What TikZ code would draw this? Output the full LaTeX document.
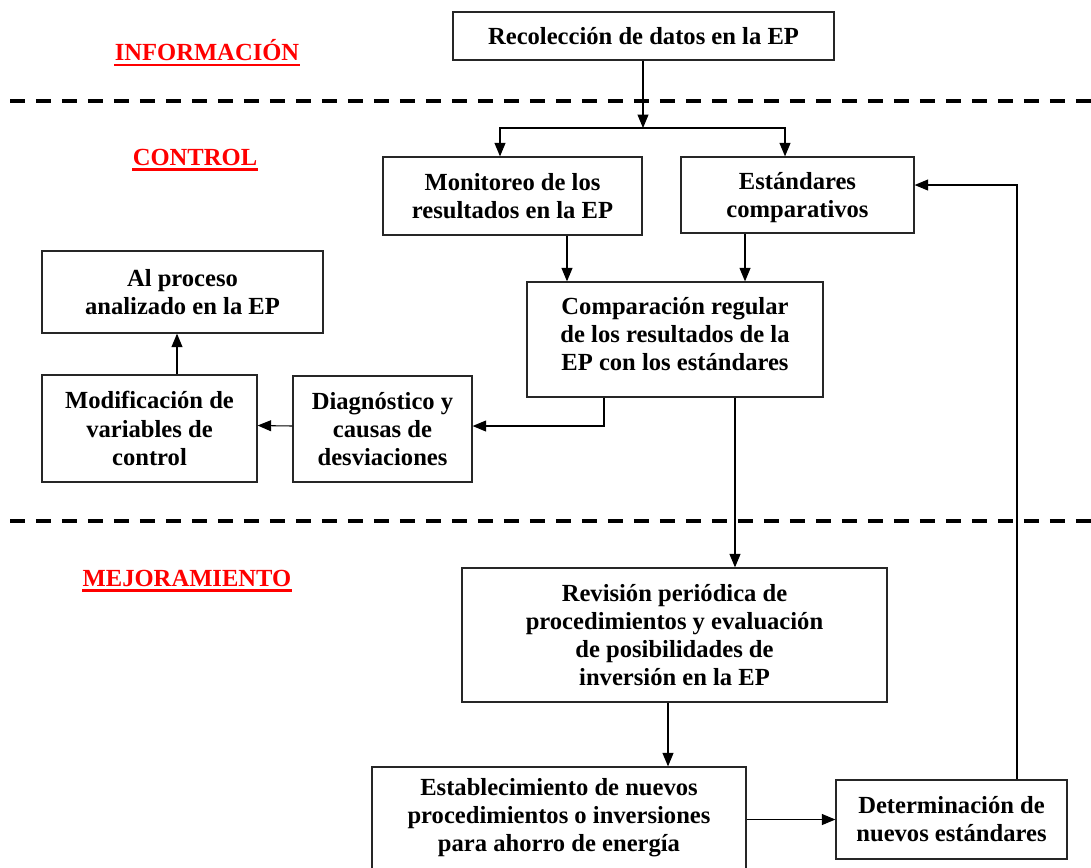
\documentclass[tikz,border=0pt]{standalone}
\usepackage{fontspec}
\setmainfont{Liberation Serif}
\usetikzlibrary{arrows.meta,calc}
\begin{document}
\begin{tikzpicture}[x=0.02cm,y=-0.02cm,
  box/.style={draw=black!85,line width=0.75pt,inner sep=0pt,font=\fontsize{14}{16}\selectfont\bfseries,align=center},
  txt/.style={inner sep=0pt,font=\fontsize{14}{16}\selectfont\bfseries,align=center},
  arr/.style={line width=0.6pt,-{Triangle[length=0.27cm,width=0.22cm]}},
  sep/.style={line width=2.3pt,dash pattern=on 0.3cm off 0.22cm},
  lab/.style={inner sep=0pt,text=red,font=\fontsize{14}{16}\selectfont\bfseries},
  uline/.style={red,line width=1.3pt}]
\useasboundingbox (0,0) rectangle (1091,867);
\clip (0,0) rectangle (1091,867);

% section separators
\draw[sep] (10,101) -- (1091,101);
\draw[sep] (10,521) -- (1091,521);

% section titles
\node[lab] (tinf) at (207,50) {INFORMACIÓN};
\node[lab] (tctl) at (195,157) {CONTROL};
\node[lab] (tmej) at (187,578) {MEJORAMIENTO};
\foreach \t in {tinf,tctl,tmej}
  \draw[uline] ([yshift=-2.6pt]\t.base west) -- ([yshift=-2.6pt]\t.base east);

% boxes
\node[box,minimum width=7.62cm,minimum height=0.96cm] (rec) at (643.5,36) {Recolección de datos en la EP};
\node[box,minimum width=5.18cm,minimum height=1.56cm] (mon) at (512.5,196) {Monitoreo de los\\resultados en la EP};
\node[box,minimum width=4.66cm,minimum height=1.52cm] (est) at (797.5,195) {};
\node[txt] at (797.5,198) {Estándares\\comparativos};
\node[box,minimum width=5.62cm,minimum height=1.64cm] (alp) at (182.5,292) {Al proceso\\analizado en la EP};
\node[box,minimum width=5.92cm,minimum height=2.30cm] (cmp) at (675,339.5) {};
\node[txt] at (675,334) {Comparación regular\\de los resultados de la\\EP con los estándares};
\node[box,minimum width=4.30cm,minimum height=2.14cm] (mod) at (149.5,428.5) {Modificación de\\variables de\\control};
\node[box,minimum width=3.58cm,minimum height=2.12cm] (dia) at (382.5,429) {Diagnóstico y\\causas de\\desviaciones};
\node[box,minimum width=8.50cm,minimum height=2.68cm] (rev) at (674.5,635) {Revisión periódica de\\procedimientos y evaluación\\de posibilidades de\\inversión en la EP};
\node[box,minimum width=7.48cm,minimum height=2.12cm] (esb) at (559,820) {};
\node[txt] at (559,818) {Establecimiento de nuevos\\procedimientos o inversiones\\para ahorro de energía};
\node[box,minimum width=4.62cm,minimum height=1.58cm] (det) at (951.5,819.5) {Determinación de\\nuevos estándares};

% connectors
\coordinate (j) at (643,128);
\draw[arr] (rec.south -| j) -- (j);
\draw[arr] (j) -| ([xshift=-0.25cm]mon.north);
\draw[arr] (j) -| ([xshift=-0.25cm]est.north);

\coordinate (m1) at ([xshift=1.09cm]mon.south);
\draw[arr] (m1) -- (m1 |- cmp.north);
\coordinate (e1) at ([xshift=-1.05cm]est.south);
\draw[arr] (e1) -- (e1 |- cmp.north);

\coordinate (c1) at ([xshift=-1.42cm]cmp.south);
\draw[arr] (c1) |- ([yshift=0.06cm]dia.east);
\draw[arr] ([yshift=0.06cm]dia.west) -- ([yshift=0.06cm]mod.east);
\coordinate (m2) at ([xshift=0.55cm]mod.north);
\draw[arr] (m2) -- (m2 |- alp.south);

\coordinate (c2) at ([xshift=1.2cm]cmp.south);
\draw[arr] (c2) -- (c2 |- rev.north);
\coordinate (r1) at ([xshift=-0.13cm]rev.south);
\draw[arr] (r1) -- (r1 |- esb.north);
\draw[arr] (det.west -| esb.east) -- (det.west);
\coordinate (d1) at ([xshift=1.31cm]det.north);
\draw[arr] (d1) |- ([yshift=0.2cm]est.east);
\end{tikzpicture}
\end{document}
